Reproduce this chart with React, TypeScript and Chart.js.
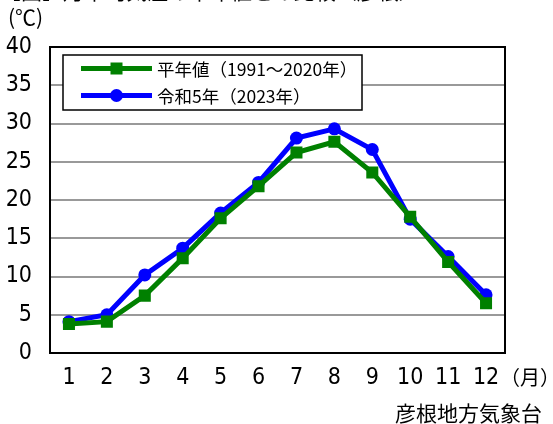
import React, { useEffect, useRef } from "react";
import { Chart, registerables } from "chart.js";

Chart.register(...registerables);

const months = ["1", "2", "3", "4", "5", "6", "7", "8", "9", "10", "11", "12"];
const normalTemps = [3.8, 4.1, 7.5, 12.4, 17.6, 21.8, 26.2, 27.6, 23.6, 17.8, 11.9, 6.5];
const temps2023 = [4.1, 5.0, 10.2, 13.7, 18.3, 22.3, 28.1, 29.3, 26.6, 17.5, 12.6, 7.6];
const seriesLabels = ["平年値（1991～2020年）", "令和5年（2023年）"];
const seriesColors = ["#008000", "#0000ff"];
const yMin = 0;
const yMax = 40;
const yStep = 5;

const CJK = '"Noto Sans CJK JP", "Noto Sans", sans-serif';
const NARROW = '"Liberation Sans Narrow", "DejaVu Sans Condensed", "Roboto", sans-serif';

const framePlugin = {
  id: "frame",
  beforeDatasetsDraw(chart: any) {
    const { ctx, chartArea: a } = chart;
    ctx.save();
    ctx.strokeStyle = "#000";
    ctx.lineWidth = 2;
    ctx.strokeRect(a.left, a.top, a.right - a.left, a.bottom - a.top);
    ctx.restore();
  },
};

const boxLegendPlugin = {
  id: "boxLegend",
  afterDraw(chart: any) {
    const { ctx, chartArea: a } = chart;
    const x0 = a.left + 13;
    const y0 = a.top + 8;
    const w = 299;
    const h = 55;
    ctx.save();
    ctx.fillStyle = "#fff";
    ctx.fillRect(x0, y0, w, h);
    ctx.strokeStyle = "#000";
    ctx.lineWidth = 1.5;
    ctx.strokeRect(x0, y0, w, h);
    chart.data.datasets.forEach((ds: any, i: number) => {
      const cy = y0 + 13.5 + i * 27;
      const lx1 = x0 + 18;
      const lx2 = x0 + 89;
      const mx = (lx1 + lx2) / 2;
      ctx.strokeStyle = ds.borderColor;
      ctx.lineWidth = 5;
      ctx.beginPath();
      ctx.moveTo(lx1, cy);
      ctx.lineTo(lx2, cy);
      ctx.stroke();
      ctx.fillStyle = ds.backgroundColor;
      if (ds.pointStyle === "rect") {
        ctx.fillRect(mx - 6, cy - 6, 12, 12);
      } else {
        ctx.beginPath();
        ctx.arc(mx, cy, 6.5, 0, Math.PI * 2);
        ctx.fill();
      }
      ctx.fillStyle = "#000";
      ctx.font = `17.5px ${CJK}`;
      ctx.textBaseline = "middle";
      ctx.textAlign = "left";
      ctx.fillText(ds.label, x0 + 94, cy + 1);
    });
    ctx.restore();
  },
};

export default function App() {
  const canvasRef = useRef<HTMLCanvasElement | null>(null);

  useEffect(() => {
    if (!canvasRef.current) return;
    const chart = new Chart(canvasRef.current, {
      type: "line",
      data: {
        labels: months,
        datasets: [
          {
            label: seriesLabels[0],
            data: normalTemps,
            borderColor: seriesColors[0],
            backgroundColor: seriesColors[0],
            borderWidth: 5,
            pointStyle: "rect",
            pointRadius: 8.5,
            pointBorderWidth: 0,
            tension: 0,
          },
          {
            label: seriesLabels[1],
            data: temps2023,
            borderColor: seriesColors[1],
            backgroundColor: seriesColors[1],
            borderWidth: 5,
            pointStyle: "circle",
            pointRadius: 6.5,
            pointBorderWidth: 0,
            tension: 0,
          },
        ],
      },
      options: {
        responsive: false,
        animation: false,
        layout: { padding: { left: 0, top: 47, right: 48, bottom: 31 } },
        plugins: {
          legend: { display: false },
          title: { display: false },
          tooltip: { enabled: false },
        },
        scales: {
          x: {
            offset: true,
            grid: { display: false, drawTicks: false },
            border: { display: false },
            ticks: {
              color: "#000",
              padding: 11,
              maxRotation: 0,
              autoSkip: false,
              font: { family: NARROW, size: 23 },
            },
            afterFit: (s: any) => {
              s.height = 40;
            },
          },
          y: {
            min: yMin,
            max: yMax,
            grid: {
              drawTicks: false,
              lineWidth: 2,
              color: (c: any) =>
                c.tick && (c.tick.value === yMin || c.tick.value === yMax) ? "rgba(0,0,0,0)" : "#999999",
            },
            border: { display: false },
            ticks: {
              stepSize: yStep,
              color: "#000",
              padding: 18,
              font: { family: NARROW, size: 23 },
            },
            afterFit: (s: any) => {
              s.width = 50;
            },
          },
        },
      },
      plugins: [framePlugin, boxLegendPlugin],
    });
    return () => chart.destroy();
  }, []);

  const textBase: React.CSSProperties = {
    position: "absolute",
    fontFamily: CJK,
    color: "#000",
    lineHeight: 1,
    whiteSpace: "nowrap",
    margin: 0,
  };

  return (
    <div
      style={{
        position: "fixed",
        left: 0,
        top: 0,
        width: 553,
        height: 424,
        overflow: "hidden",
        background: "#fff",
      }}
    >
      <canvas ref={canvasRef} width={553} height={424} style={{ position: "absolute", left: 0, top: 0, width: 553, height: 424 }} />
      <div style={{ ...textBase, left: 0, top: -20, fontSize: 21 }}>【図】月平均気温の平年値との比較（彦根）</div>
      <div style={{ ...textBase, left: 8, top: 6, fontSize: 21 }}>(℃)</div>
      <div style={{ ...textBase, left: 500, top: 367, fontSize: 20 }}>（月）</div>
      <div style={{ ...textBase, left: 395, top: 402, fontSize: 21 }}>彦根地方気象台</div>
    </div>
  );
}
